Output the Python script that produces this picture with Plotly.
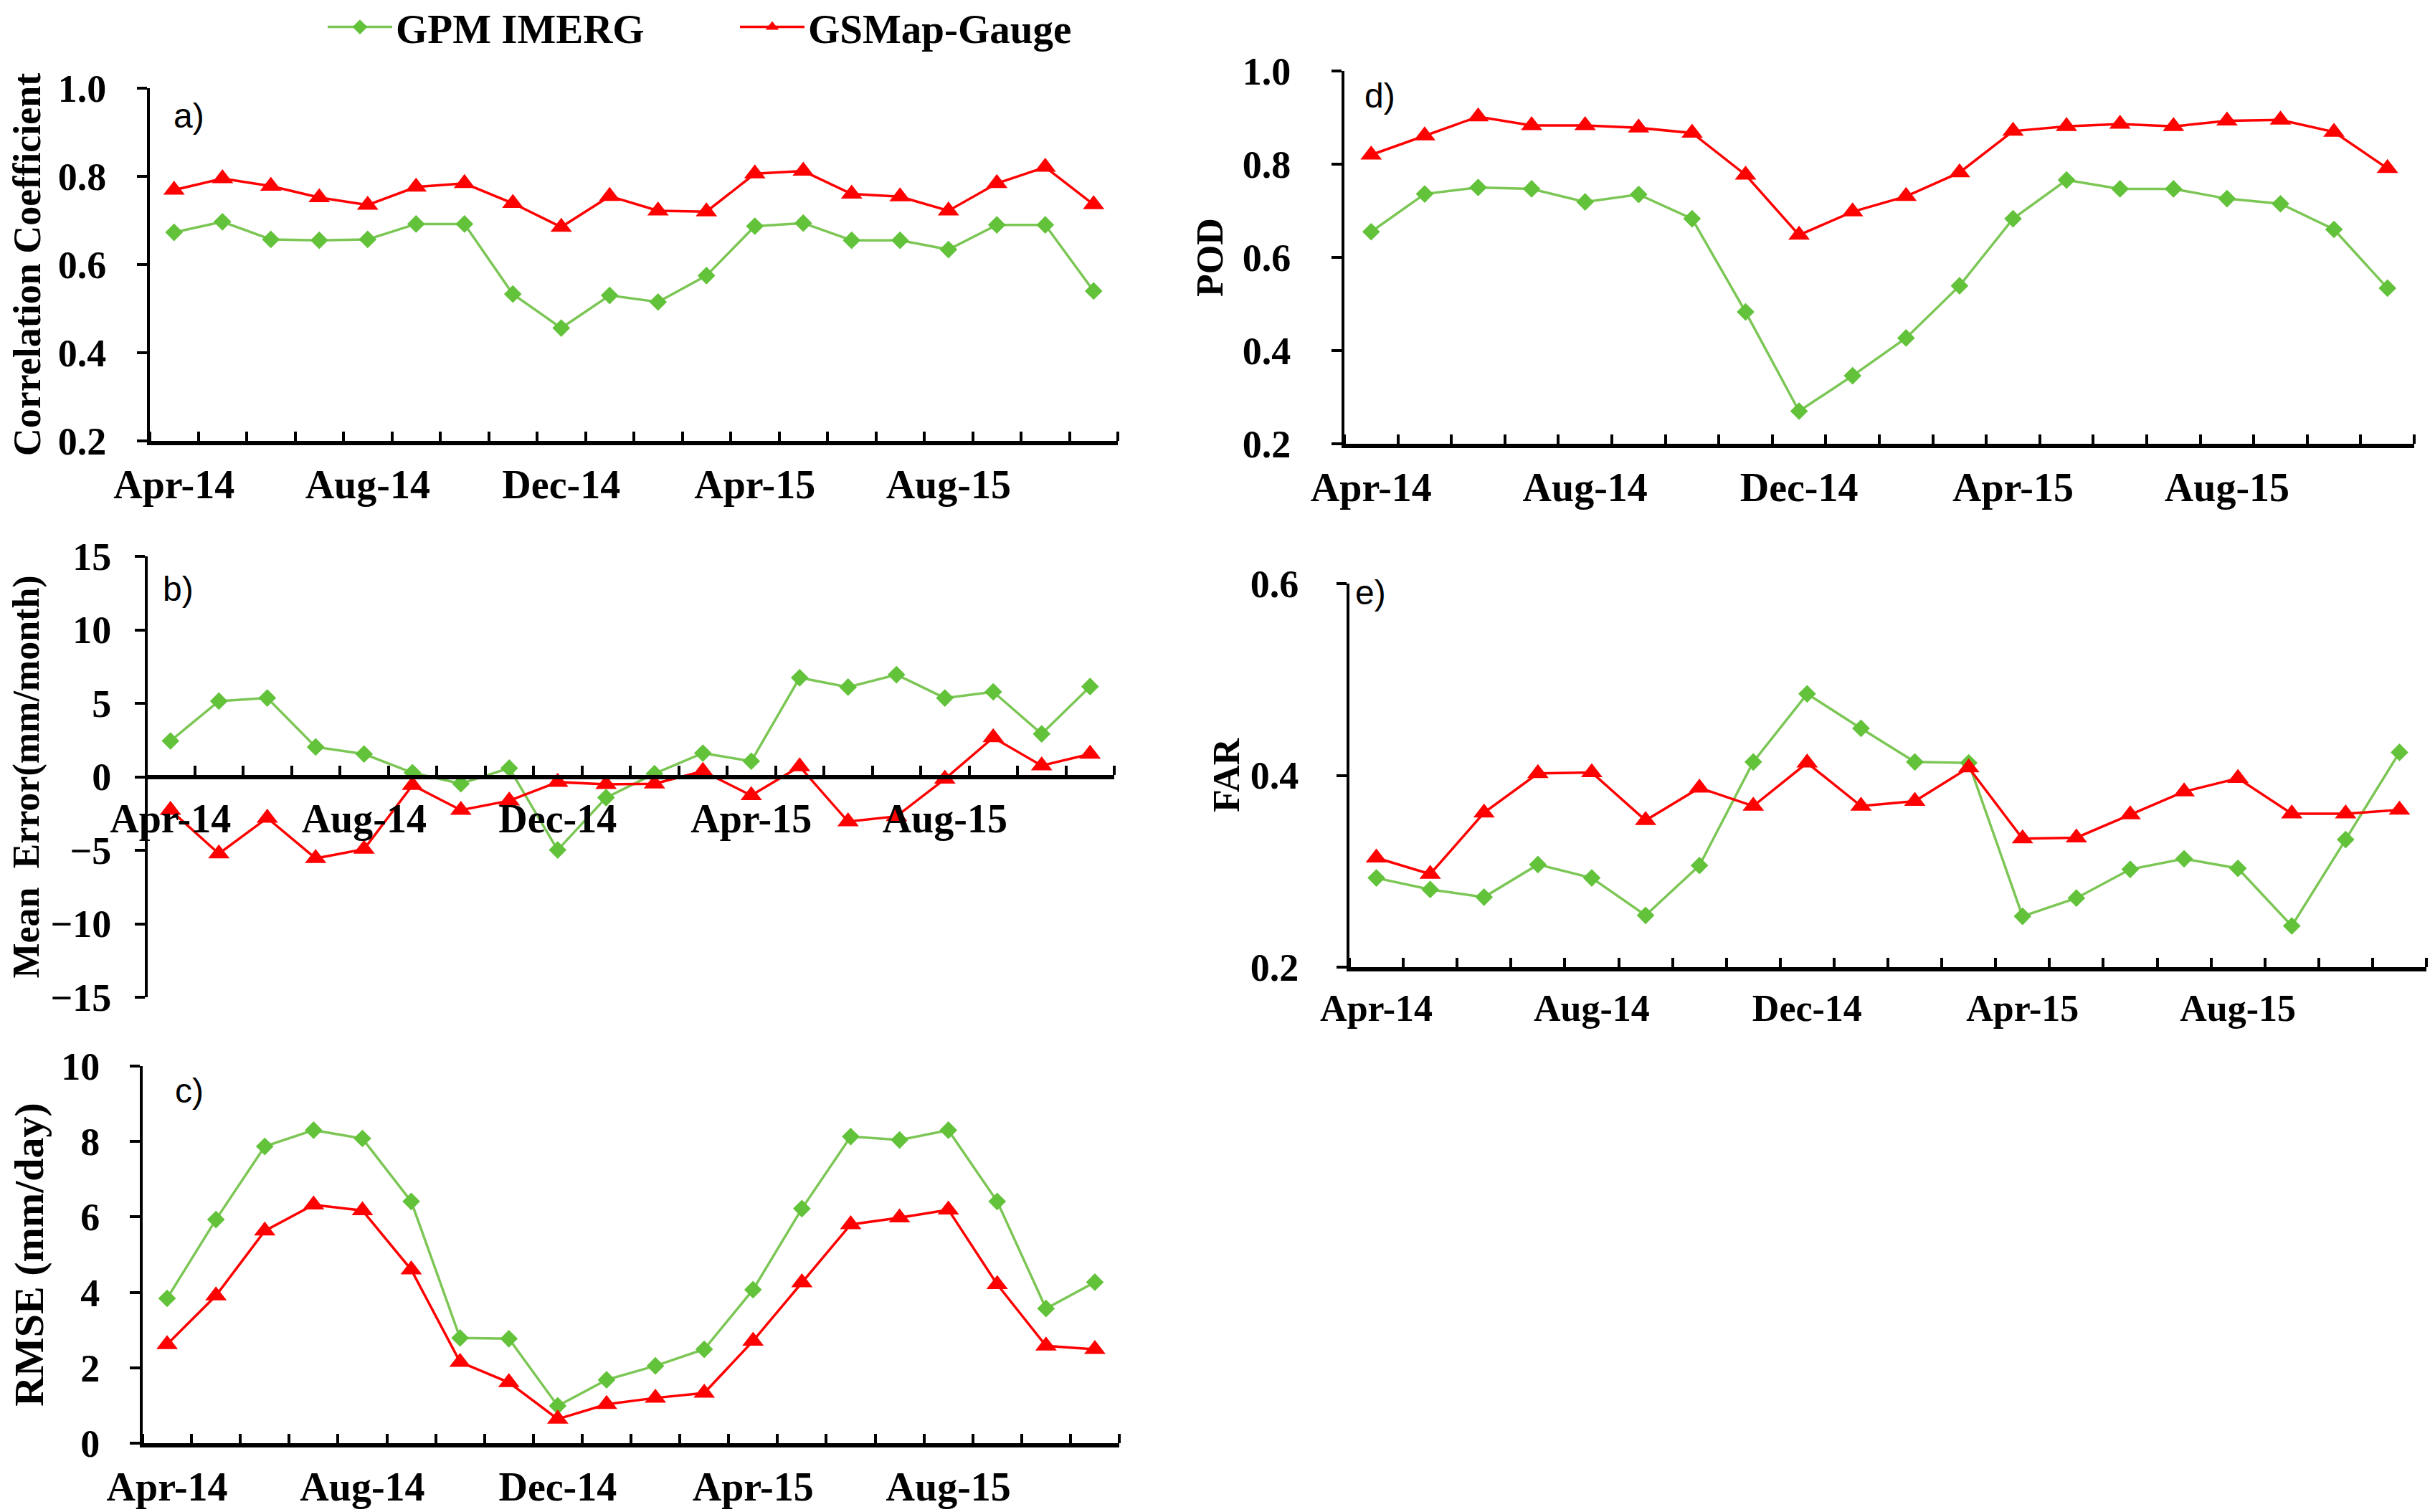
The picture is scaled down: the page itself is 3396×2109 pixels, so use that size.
import plotly.graph_objects as go

# ---------------- data ----------------
months = ["Apr-14", "May-14", "Jun-14", "Jul-14", "Aug-14", "Sep-14", "Oct-14", "Nov-14",
          "Dec-14", "Jan-15", "Feb-15", "Mar-15", "Apr-15", "May-15", "Jun-15", "Jul-15",
          "Aug-15", "Sep-15", "Oct-15", "Nov-15"]
label_idx = [0, 4, 8, 12, 16]

cc_gpm = [0.673, 0.697, 0.657, 0.655, 0.657, 0.692, 0.692, 0.533, 0.456, 0.530,
          0.515, 0.575, 0.687, 0.694, 0.655, 0.655, 0.634, 0.690, 0.690, 0.540]
cc_gsm = [0.769, 0.795, 0.778, 0.752, 0.735, 0.776, 0.784, 0.739, 0.685, 0.755,
          0.722, 0.720, 0.806, 0.812, 0.760, 0.754, 0.722, 0.784, 0.821, 0.736]

me_gpm = [2.44, 5.15, 5.36, 2.03, 1.55, 0.28, -0.47, 0.59, -4.98, -1.42,
          0.21, 1.61, 1.06, 6.74, 6.10, 6.95, 5.36, 5.78, 2.92, 6.14]
me_gsm = [-2.27, -5.23, -2.80, -5.55, -4.92, -0.57, -2.27, -1.63, -0.36, -0.51,
          -0.47, 0.38, -1.27, 0.70, -3.05, -2.69, -0.15, 2.67, 0.76, 1.55]

rmse_gpm = [3.84, 5.93, 7.87, 8.30, 8.08, 6.41, 2.79, 2.77, 0.99, 1.68,
            2.05, 2.49, 4.07, 6.22, 8.13, 8.04, 8.30, 6.41, 3.57, 4.27]
rmse_gsm = [2.62, 3.91, 5.63, 6.32, 6.17, 4.60, 2.15, 1.61, 0.64, 1.03,
            1.20, 1.33, 2.71, 4.26, 5.80, 5.98, 6.19, 4.21, 2.58, 2.49]

pod_gpm = [0.655, 0.736, 0.750, 0.747, 0.719, 0.735, 0.683, 0.483, 0.270, 0.346,
           0.427, 0.539, 0.683, 0.766, 0.747, 0.747, 0.726, 0.715, 0.660, 0.534]
pod_gsm = [0.820, 0.861, 0.902, 0.883, 0.883, 0.878, 0.867, 0.777, 0.648, 0.698,
           0.731, 0.782, 0.871, 0.881, 0.886, 0.881, 0.893, 0.895, 0.869, 0.791]

far_gpm = [0.293, 0.281, 0.273, 0.307, 0.293, 0.254, 0.306, 0.414, 0.485, 0.449,
           0.414, 0.413, 0.253, 0.272, 0.302, 0.313, 0.303, 0.243, 0.333, 0.424]
far_gsm = [0.314, 0.297, 0.361, 0.402, 0.403, 0.353, 0.387, 0.368, 0.413, 0.368,
           0.373, 0.408, 0.334, 0.335, 0.359, 0.383, 0.397, 0.360, 0.360, 0.364]

series_names = ["GPM IMERG", "GSMap-Gauge"]

# ---------------- styling ----------------
W, H = 3396, 2109
GREEN_M = "#62c23a"
GREEN_L = "#7cc655"
RED = "#ff0000"
SERIF = "Liberation Serif"
SANS = "Liberation Sans"

x_idx = list(range(len(months)))
boundaries = [i - 0.5 for i in range(len(months) + 1)]
major_bounds = [b for b in boundaries if (b + 0.5) % 4 == 0]


def dx(a, b):
    return [a / W, b / W]


def dy(top, bottom):
    return [1 - bottom / H, 1 - top / H]


panels = [
    dict(n=1, xd=(201, 1551), yd=(115, 607), yr=[0.2, 1.0], dt=0.2, fmt=".1f",
         title="Correlation Coefficient", tsize=54, tstand=28, lstand=32,
         xfs=56, label="a)", lab=(232, 153), g=cc_gpm, r=cc_gsm, zero=False),
    dict(n=2, xd=(196, 1546), yd=(768, 1383), yr=[-15, 15], dt=5, fmt="d",
         title="Mean\u00a0\u00a0Error(mm/month)", tsize=52, tstand=26, lstand=22,
         xfs=56, label="b)", lab=(217, 813), g=me_gpm, r=me_gsm, zero=True),
    dict(n=3, xd=(191, 1553), yd=(1479, 2005), yr=[0, 10], dt=2, fmt="d",
         title="RMSE (mm/day)", tsize=58, tstand=29, lstand=31,
         xfs=56, label="c)", lab=(234, 1513), g=rmse_gpm, r=rmse_gsm, zero=False),
    dict(n=4, xd=(1867, 3359), yd=(91, 611), yr=[0.2, 1.0], dt=0.2, fmt=".1f",
         title="POD", tsize=52, tstand=12, lstand=46,
         xfs=56, label="d)", lab=(1893, 125), g=pod_gpm, r=pod_gsm, zero=False),
    dict(n=5, xd=(1874, 3376), yd=(806, 1341), yr=[0.2, 0.6], dt=0.2, fmt=".1f",
         title="FAR", tsize=52, tstand=0, lstand=42,
         xfs=52, label="e)", lab=(1880, 818), g=far_gpm, r=far_gsm, zero=False),
]

fig = go.Figure()
layout = dict(
    template="none",
    width=W, height=H,
    margin=dict(l=0, r=0, t=0, b=0, pad=0, autoexpand=False),
    paper_bgcolor="white", plot_bgcolor="white",
    showlegend=True,
    legend=dict(orientation="h", x=444 / W, y=1 - 30 / H, xanchor="left", yanchor="middle",
                font=dict(family=SERIF, size=57, color="black", weight="bold"),
                itemwidth=90, entrywidth=470, bgcolor="rgba(0,0,0,0)",
                itemsizing="trace", borderwidth=0),
    annotations=[],
)

for p in panels:
    n = p["n"]
    sfx = "" if n == 1 else str(n)
    xa, ya = "x" + sfx, "y" + sfx
    first = n == 1
    fig.add_trace(go.Scatter(
        x=x_idx, y=p["g"], name=series_names[0], mode="lines+markers",
        xaxis=xa, yaxis=ya, showlegend=first, legendgroup="gpm",
        line=dict(color=GREEN_L, width=3.5),
        marker=dict(symbol="diamond", size=19, color=GREEN_M),
        cliponaxis=False,
    ))
    fig.add_trace(go.Scatter(
        x=x_idx, y=p["r"], name=series_names[1], mode="lines+markers",
        xaxis=xa, yaxis=ya, showlegend=first, legendgroup="gsm",
        line=dict(color=RED, width=3.5),
        marker=dict(symbol="triangle-up", size=26, color=RED),
        cliponaxis=False,
    ))

    ydom = dy(*p["yd"])
    xdom = dx(*p["xd"])
    xkw = dict(
        domain=xdom, range=[-0.5, len(months) - 0.5], showgrid=False, zeroline=False,
        automargin=False,
        showline=True, linecolor="black", linewidth=6,
        tickmode="array", tickvals=label_idx, ticktext=[months[i] for i in label_idx],
        ticks="", ticklabelstandoff=7,
        tickfont=dict(family=SERIF, size=p["xfs"], color="black", weight="bold"),
        minor=dict(tickmode="array", tickvals=boundaries, ticks="inside",
                   ticklen=13, tickwidth=4, tickcolor="black", showgrid=False),
        fixedrange=True,
    )
    okw = dict(
        range=[-0.5, len(months) - 0.5], overlaying=xa, showgrid=False, zeroline=False,
        automargin=False,
        showline=False, tickmode="array", tickvals=major_bounds, ticks="outside",
        ticklen=16, tickwidth=4, tickcolor="black", showticklabels=False, fixedrange=True,
    )
    if p["zero"]:
        pos = (ydom[0] + ydom[1]) / 2
        xkw.update(anchor="free", position=pos)
        okw.update(anchor="free", position=pos)
    else:
        xkw.update(anchor=ya)
        okw.update(anchor=ya)
    layout["xaxis" + sfx] = xkw
    layout["xaxis" + str(n + 5)] = okw
    ykw = dict(
        domain=ydom, anchor=xa,
        range=p["yr"], dtick=p["dt"], tick0=p["yr"][0], tickformat=p["fmt"],
        automargin=False,
        showgrid=False, zeroline=False, showline=True, linecolor="black", linewidth=4,
        ticks="outside", ticklen=14, tickwidth=4, tickcolor="black",
        ticklabelstandoff=p["lstand"],
        tickfont=dict(family=SERIF, size=54, color="black", weight="bold"),
        title=dict(text=p["title"], standoff=p["tstand"],
                   font=dict(family=SERIF, size=p["tsize"], color="black", weight="bold")),
        fixedrange=True,
    )
    if p["zero"]:
        ykw.update(anchor="free", position=xdom[0])
    layout["yaxis" + sfx] = ykw
    layout["annotations"].append(dict(
        text=p["label"], x=p["lab"][0] / W, y=1 - p["lab"][1] / H, xref="paper", yref="paper",
        xanchor="left", yanchor="middle", showarrow=False,
        font=dict(family=SANS, size=48, color="black"),
    ))

layout["font"] = dict(family=SERIF, color="black")
fig.update_layout(**layout)

fig.write_html("out.html")
